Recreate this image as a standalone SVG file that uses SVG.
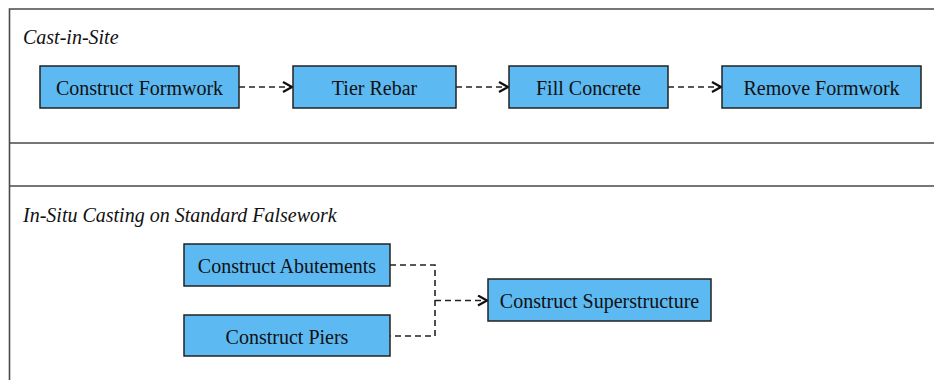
<svg xmlns="http://www.w3.org/2000/svg" width="934" height="380" viewBox="0 0 934 380">
<style>
.frame{fill:none;stroke:#4a4a4a;stroke-width:1.6}
.box{fill:#5cb9f2;stroke:#222;stroke-width:1.5}
.lbl{font-family:"Liberation Serif","Times New Roman",serif;font-size:20px;fill:#111;text-anchor:middle;dominant-baseline:central}
.ttl{font-family:"Liberation Serif","Times New Roman",serif;font-size:20px;font-style:italic;fill:#111}
.conn{fill:none;stroke:#222;stroke-width:1.6;stroke-dasharray:6,4}
</style>
<defs>
<marker id="arr" viewBox="0 0 12 12" refX="11" refY="6" markerWidth="12" markerHeight="12" markerUnits="userSpaceOnUse" orient="auto">
<path d="M2,1 L11,6 L2,11" fill="none" stroke="#111" stroke-width="2.2"/>
</marker>
</defs>
<rect width="934" height="380" fill="#fff"/>
<g id="frames">
<path class="frame" d="M940,9 H9.5 V380 M9.5,143 H940 M9.5,186 H940"/>
<text class="ttl" x="23" y="44">Cast-in-Site</text>
<text class="ttl" x="23" y="222">In-Situ Casting on Standard Falsework</text>
</g>
<g id="connectors">
<path class="conn" d="M239,87 H292" marker-end="url(#arr)"/>
<path class="conn" d="M456,87 H508" marker-end="url(#arr)"/>
<path class="conn" d="M668,87 H721" marker-end="url(#arr)"/>
<path class="conn" d="M390,265 H435 V336 H390"/>
<path class="conn" d="M435,300.5 H487" marker-end="url(#arr)"/>
</g>
<g id="n1"><rect class="box" x="40" y="66" width="199" height="42"/><text class="lbl" x="139.5" y="88">Construct Formwork</text></g>
<g id="n2"><rect class="box" x="293" y="66" width="163" height="42"/><text class="lbl" x="374.5" y="88">Tier Rebar</text></g>
<g id="n3"><rect class="box" x="509" y="66" width="159" height="42"/><text class="lbl" x="588.5" y="88">Fill Concrete</text></g>
<g id="n4"><rect class="box" x="722" y="66" width="199" height="42"/><text class="lbl" x="821.5" y="88">Remove Formwork</text></g>
<g id="n5"><rect class="box" x="184" y="244" width="206" height="42"/><text class="lbl" x="287" y="266">Construct Abutements</text></g>
<g id="n6"><rect class="box" x="184" y="315" width="206" height="41"/><text class="lbl" x="287" y="336.5">Construct Piers</text></g>
<g id="n7"><rect class="box" x="488" y="279" width="223" height="42"/><text class="lbl" x="599.5" y="301">Construct Superstructure</text></g>
</svg>
